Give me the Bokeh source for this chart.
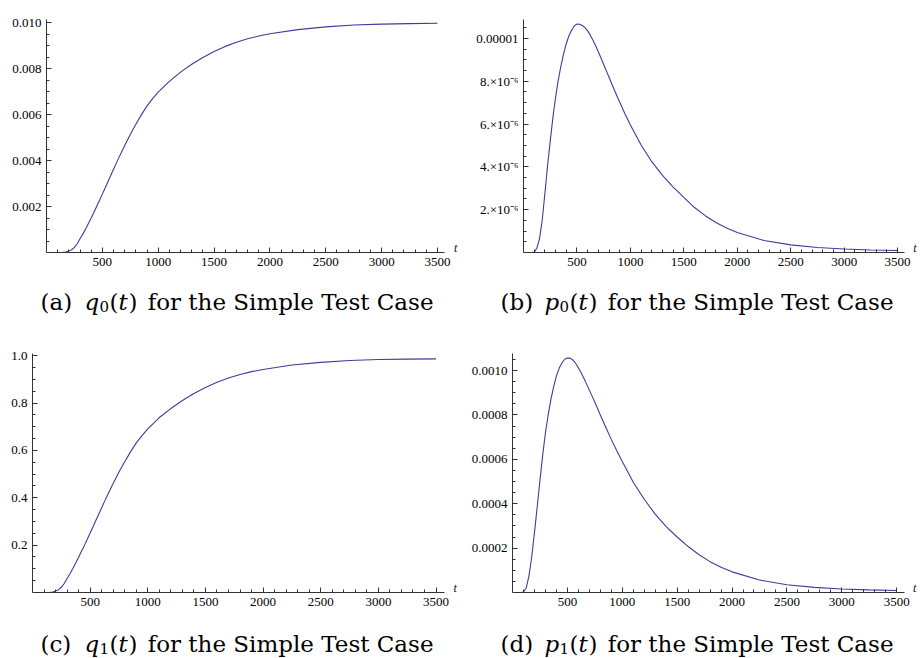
from bokeh.plotting import figure
from bokeh.models import Range1d, FixedTicker
from bokeh.layouts import column, row
from bokeh.core.properties import value
from bokeh.embed import file_html
from bokeh.resources import INLINE

# ---------------- data ----------------
t = [0, 50, 75, 100, 125, 150, 175, 200, 225, 250, 275, 300,
     325, 350, 375, 400, 425, 450, 475, 500, 525, 550, 575, 600, 625, 650,
     675, 700, 725, 750, 775, 800,
     850, 900, 950, 1000,
     1100, 1200, 1300, 1400, 1500, 1600, 1700, 1800, 1900, 2000,
     2250, 2500, 2750, 3000, 3250, 3500]

# q0(t), units of 1e-3
q0_e3 = [0, 0, 0, 0, 0, 0.005, 0.02, 0.06, 0.12, 0.22, 0.38, 0.6,
         0.8, 1.02, 1.26, 1.5, 1.75, 2.01, 2.27, 2.54, 2.81, 3.08, 3.35, 3.62, 3.89, 4.15,
         4.41, 4.66, 4.9, 5.14, 5.36, 5.58,
         6.0, 6.38, 6.7, 6.98,
         7.45, 7.85, 8.19, 8.49, 8.75, 8.97, 9.15, 9.3, 9.42, 9.52,
         9.7, 9.82, 9.9, 9.94, 9.96, 9.975]

# p0(t), units of 1e-6
p0_e6 = [0, 0, 0, 0.02, 0.2, 0.65, 1.5, 2.75, 4.05, 5.2, 6.3, 7.24,
         8.05, 8.7, 9.27, 9.75, 10.12, 10.38, 10.58, 10.67, 10.66, 10.6, 10.5, 10.35, 10.15, 9.91,
         9.65, 9.37, 9.08, 8.78, 8.48, 8.18,
         7.59, 7.02, 6.47, 5.95,
         5.02, 4.24, 3.6, 3.05, 2.57, 2.1, 1.72, 1.4, 1.14, 0.93,
         0.56, 0.355, 0.235, 0.16, 0.12, 0.09]

# q1(t)
q1 = [0, 0, 0, 0, 0, 0.0005, 0.002, 0.006, 0.012, 0.022, 0.038, 0.059,
      0.079, 0.101, 0.125, 0.149, 0.174, 0.199, 0.225, 0.251, 0.278, 0.305, 0.332, 0.358, 0.385, 0.411,
      0.436, 0.461, 0.485, 0.509, 0.531, 0.552,
      0.594, 0.632, 0.663, 0.691,
      0.739, 0.777, 0.811, 0.841, 0.866, 0.888, 0.906, 0.921, 0.933, 0.942,
      0.961, 0.972, 0.98, 0.984, 0.986, 0.987]

# p1(t), units of 1e-3
p1_e3 = [0, 0, 0, 0.002, 0.02, 0.075, 0.16, 0.27, 0.385, 0.505, 0.618, 0.72,
         0.8, 0.87, 0.928, 0.975, 1.01, 1.034, 1.051, 1.057, 1.056, 1.048, 1.033, 1.013, 0.99, 0.965,
         0.939, 0.912, 0.885, 0.858, 0.829, 0.8,
         0.745, 0.69, 0.639, 0.59,
         0.497, 0.42, 0.353, 0.297, 0.25, 0.207, 0.17, 0.139, 0.114, 0.093,
         0.056, 0.035, 0.023, 0.016, 0.012, 0.009]

q0 = [v * 1e-3 for v in q0_e3]
p0 = [v * 1e-6 for v in p0_e6]
p1 = [v * 1e-3 for v in p1_e3]

x_ticks = [500, 1000, 1500, 2000, 2500, 3000, 3500]
x_minor = list(range(100, 3600, 100))

ya_ticks = [0.002, 0.004, 0.006, 0.008, 0.010]
ya_labels = ["0.002", "0.004", "0.006", "0.008", "0.010"]
yb_ticks = [2e-6, 4e-6, 6e-6, 8e-6, 1e-5]
yb_labels = ["2.\u00d710\u207b\u2076", "4.\u00d710\u207b\u2076", "6.\u00d710\u207b\u2076",
             "8.\u00d710\u207b\u2076", "0.00001"]
yc_ticks = [0.2, 0.4, 0.6, 0.8, 1.0]
yc_labels = ["0.2", "0.4", "0.6", "0.8", "1.0"]
yd_ticks = [0.0002, 0.0004, 0.0006, 0.0008, 0.0010]
yd_labels = ["0.0002", "0.0004", "0.0006", "0.0008", "0.0010"]

captions = [("(a)", "q", "0"), ("(b)", "p", "0"), ("(c)", "q", "1"), ("(d)", "p", "1")]
caption_tail = "for the Simple Test Case"

LINE = "#3d3d99"
AX = "#333333"
TICKFONT = "Liberation Serif"
CAPFONT = "DejaVu Serif"
BOTTOM = 26


def panel(ys, yticks, ylabels, ystep, yend, xaxis_end, xrange_end, left, top, frame_h):
    h = top + frame_h + BOTTOM
    p = figure(width=460, height=h, x_range=Range1d(0, xrange_end), y_range=Range1d(0, yend),
               output_backend="svg", toolbar_location=None,
               min_border_left=left, min_border_right=0,
               min_border_top=top, min_border_bottom=BOTTOM)
    p.outline_line_color = None
    p.xgrid.visible = False
    p.ygrid.visible = False
    p.background_fill_color = "white"
    p.border_fill_color = "white"
    p.line(t, ys, line_color=LINE, line_width=1.1)

    yminor = []
    k = 1
    while k * ystep <= yend * 1.0000001:
        yminor.append(k * ystep)
        k += 1
    p.xaxis.ticker = FixedTicker(ticks=x_ticks, minor_ticks=x_minor)
    p.yaxis.ticker = FixedTicker(ticks=yticks, minor_ticks=yminor)
    p.yaxis.major_label_overrides = {v: s for v, s in zip(yticks, ylabels)}
    p.xaxis.bounds = (0, xaxis_end)
    for ax in (p.xaxis, p.yaxis):
        ax.axis_line_color = AX
        ax.major_tick_line_color = AX
        ax.minor_tick_line_color = AX
        ax.major_tick_in = 5
        ax.major_tick_out = 0
        ax.minor_tick_in = 3
        ax.minor_tick_out = 0
        ax.major_label_text_font = TICKFONT
        ax.major_label_text_font_size = "13px"
        ax.major_label_text_color = "#000000"
        ax.major_label_standoff = 5

    # axis name t at the end of the horizontal axis
    p.text(x=[xaxis_end], y=[0], text=["t"], x_offset=9, y_offset=-5,
           text_font=value(TICKFONT), text_font_style="italic", text_font_size="12px",
           text_baseline="middle", text_align="left", text_color="#111111")
    return p


def caption_fig(h, ymid, cap):
    c = figure(width=460, height=h, x_range=Range1d(0, 460), y_range=Range1d(0, h),
               output_backend="svg", toolbar_location=None, min_border=0,
               x_axis_type=None, y_axis_type=None)
    c.outline_line_color = None
    c.background_fill_color = "white"
    c.border_fill_color = "white"
    tag, var, sub = cap

    def piece(txt, x, dy, size, style, align="left"):
        c.text(x=[x], y=[ymid + dy], text=[txt], text_font=value(CAPFONT),
               text_font_size=size, text_font_style=style, text_align=align,
               text_baseline="middle", text_color="black")

    piece(tag, 40, 0, "23px", "normal")
    piece(var, 84, 0, "23px", "italic")
    piece(sub, 99, -5, "15px", "normal")
    piece("(", 109, 0, "23px", "normal")
    piece("t", 118, 0, "23px", "italic")
    piece(")", 128, 0, "23px", "normal")
    piece(caption_tail, 433, 0, "23px", "normal", align="right")
    return c


pa = panel(q0, ya_ticks, ya_labels, 0.0005, 0.01014, 3567, 3706, 46, 7, 245)
pb = panel(p0, yb_ticks, yb_labels, 0.5e-6, 10.88e-6, 3561, 3714, 63, 19, 233)
pc = panel(q1, yc_ticks, yc_labels, 0.05, 1.0096, 3573, 3712, 32, 18, 254)
pd = panel(p1, yd_ticks, yd_labels, 0.00005, 0.001077, 3567, 3717, 52, 33, 239)

top_cap_h = 320 - (7 + 245 + BOTTOM)
bot_cap_h = 338 - (18 + 254 + BOTTOM)
ca = caption_fig(top_cap_h, top_cap_h - 23, captions[0])
cb = caption_fig(top_cap_h, top_cap_h - 23, captions[1])
cc = caption_fig(bot_cap_h, bot_cap_h - 25, captions[2])
cd = caption_fig(bot_cap_h, bot_cap_h - 25, captions[3])

layout = column(row(pa, pb), row(ca, cb), row(pc, pd), row(cc, cd))
open("out.html", "w").write(file_html(layout, INLINE))
